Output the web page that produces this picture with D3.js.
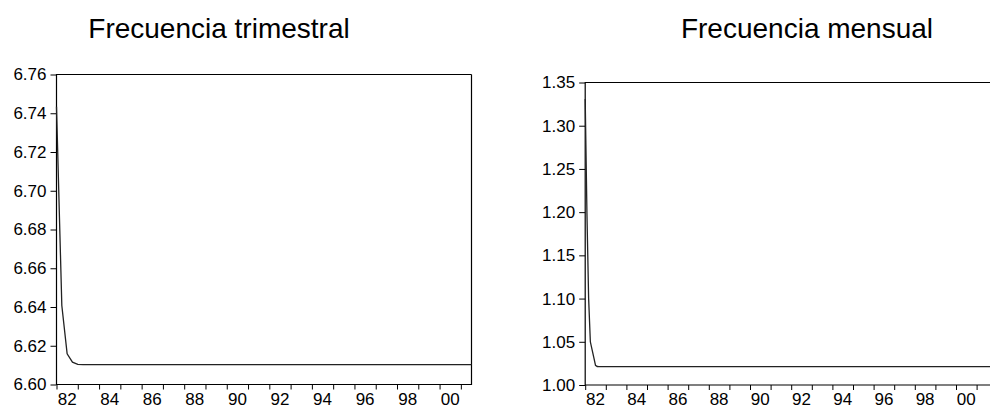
<!DOCTYPE html>
<html>
<head>
<meta charset="utf-8">
<script src="https://cdn.jsdelivr.net/npm/d3@7"></script>
<style>
  html, body { margin: 0; padding: 0; background: #fff; overflow: hidden; }
  svg { display: block; font-family: "Liberation Sans", Arial, sans-serif; }
</style>
</head>
<body>
<svg id="chart" width="990" height="409"></svg>
<script>
// ---------------- DATA ----------------
const titles = ["Frecuencia trimestral", "Frecuencia mensual"];

// Quarterly series, 1982Q1 .. 2001Q3
const quarterlyStart = 1982;
const quarterlyValues = [
  6.7433, 6.6408, 6.6158, 6.6115,
  6.6104, 6.6103, 6.6103, 6.6103,
  6.6103, 6.6103, 6.6103, 6.6103,
  6.6103, 6.6103, 6.6103, 6.6103,
  6.6103, 6.6103, 6.6103, 6.6103,
  6.6103, 6.6103, 6.6103, 6.6103,
  6.6103, 6.6103, 6.6103, 6.6103,
  6.6103, 6.6103, 6.6103, 6.6103,
  6.6103, 6.6103, 6.6103, 6.6103,
  6.6103, 6.6103, 6.6103, 6.6103,
  6.6103, 6.6103, 6.6103, 6.6103,
  6.6103, 6.6103, 6.6103, 6.6103,
  6.6103, 6.6103, 6.6103, 6.6103,
  6.6103, 6.6103, 6.6103, 6.6103,
  6.6103, 6.6103, 6.6103, 6.6103,
  6.6103, 6.6103, 6.6103, 6.6103,
  6.6103, 6.6103, 6.6103, 6.6103,
  6.6103, 6.6103, 6.6103, 6.6103,
  6.6103, 6.6103, 6.6103, 6.6103,
  6.6103, 6.6103, 6.6103
];

// Monthly series, 1982M01 .. 2001M09
const monthlyStart = 1982;
const monthlyValues = [
  1.3310, 1.2000, 1.1000, 1.0500, 1.0410, 1.0320, 1.0228, 1.0214, 1.0212, 1.0212, 1.0212, 1.0212, // 1982
  1.0212, 1.0212, 1.0212, 1.0212, 1.0212, 1.0212, 1.0212, 1.0212, 1.0212, 1.0212, 1.0212, 1.0212, // 1983
  1.0212, 1.0212, 1.0212, 1.0212, 1.0212, 1.0212, 1.0212, 1.0212, 1.0212, 1.0212, 1.0212, 1.0212, // 1984
  1.0212, 1.0212, 1.0212, 1.0212, 1.0212, 1.0212, 1.0212, 1.0212, 1.0212, 1.0212, 1.0212, 1.0212, // 1985
  1.0212, 1.0212, 1.0212, 1.0212, 1.0212, 1.0212, 1.0212, 1.0212, 1.0212, 1.0212, 1.0212, 1.0212, // 1986
  1.0212, 1.0212, 1.0212, 1.0212, 1.0212, 1.0212, 1.0212, 1.0212, 1.0212, 1.0212, 1.0212, 1.0212, // 1987
  1.0212, 1.0212, 1.0212, 1.0212, 1.0212, 1.0212, 1.0212, 1.0212, 1.0212, 1.0212, 1.0212, 1.0212, // 1988
  1.0212, 1.0212, 1.0212, 1.0212, 1.0212, 1.0212, 1.0212, 1.0212, 1.0212, 1.0212, 1.0212, 1.0212, // 1989
  1.0212, 1.0212, 1.0212, 1.0212, 1.0212, 1.0212, 1.0212, 1.0212, 1.0212, 1.0212, 1.0212, 1.0212, // 1990
  1.0212, 1.0212, 1.0212, 1.0212, 1.0212, 1.0212, 1.0212, 1.0212, 1.0212, 1.0212, 1.0212, 1.0212, // 1991
  1.0212, 1.0212, 1.0212, 1.0212, 1.0212, 1.0212, 1.0212, 1.0212, 1.0212, 1.0212, 1.0212, 1.0212, // 1992
  1.0212, 1.0212, 1.0212, 1.0212, 1.0212, 1.0212, 1.0212, 1.0212, 1.0212, 1.0212, 1.0212, 1.0212, // 1993
  1.0212, 1.0212, 1.0212, 1.0212, 1.0212, 1.0212, 1.0212, 1.0212, 1.0212, 1.0212, 1.0212, 1.0212, // 1994
  1.0212, 1.0212, 1.0212, 1.0212, 1.0212, 1.0212, 1.0212, 1.0212, 1.0212, 1.0212, 1.0212, 1.0212, // 1995
  1.0212, 1.0212, 1.0212, 1.0212, 1.0212, 1.0212, 1.0212, 1.0212, 1.0212, 1.0212, 1.0212, 1.0212, // 1996
  1.0212, 1.0212, 1.0212, 1.0212, 1.0212, 1.0212, 1.0212, 1.0212, 1.0212, 1.0212, 1.0212, 1.0212, // 1997
  1.0212, 1.0212, 1.0212, 1.0212, 1.0212, 1.0212, 1.0212, 1.0212, 1.0212, 1.0212, 1.0212, 1.0212, // 1998
  1.0212, 1.0212, 1.0212, 1.0212, 1.0212, 1.0212, 1.0212, 1.0212, 1.0212, 1.0212, 1.0212, 1.0212, // 1999
  1.0212, 1.0212, 1.0212, 1.0212, 1.0212, 1.0212, 1.0212, 1.0212, 1.0212, 1.0212, 1.0212, 1.0212, // 2000
  1.0212, 1.0212, 1.0212, 1.0212, 1.0212, 1.0212, 1.0212, 1.0212, 1.0212                          // 2001
];

const quarterlyYTicks = [6.60, 6.62, 6.64, 6.66, 6.68, 6.70, 6.72, 6.74, 6.76];
const monthlyYTicks = [1.00, 1.05, 1.10, 1.15, 1.20, 1.25, 1.30, 1.35];
const yearTicks = [1982, 1983, 1984, 1985, 1986, 1987, 1988, 1989, 1990, 1991,
                   1992, 1993, 1994, 1995, 1996, 1997, 1998, 1999, 2000, 2001];
const yearLabels = [1982, 1984, 1986, 1988, 1990, 1992, 1994, 1996, 1998, 2000];

// ---------------- DRAW ----------------
const svg = d3.select("#chart");
const FONT = 17;

function panel(cfg) {
  const g = svg.append("g");
  const x = d3.scaleLinear().domain(cfg.xDomain).range([cfg.left, cfg.right]);
  const y = d3.scaleLinear().domain(cfg.yDomain).range([cfg.bottom, cfg.top]);

  // title
  g.append("text")
    .attr("x", cfg.titleX).attr("y", cfg.titleY)
    .attr("text-anchor", "middle")
    .attr("font-size", 28)
    .attr("fill", "#000")
    .text(cfg.title);

  // y axis
  const yAx = g.append("g")
    .attr("transform", `translate(${cfg.left},0)`)
    .call(d3.axisLeft(y).tickValues(cfg.yTicks).tickFormat(d3.format(".2f")).tickSize(6).tickPadding(4));
  yAx.select(".domain").remove();
  yAx.selectAll("text").attr("font-size", FONT).attr("font-family", "Liberation Sans, Arial, sans-serif").attr("fill", "#000");
  yAx.selectAll("line").attr("stroke", "#000");

  // x axis ticks
  const xAx = g.append("g")
    .attr("transform", `translate(0,${cfg.bottom})`)
    .call(d3.axisBottom(x).tickValues(yearTicks).tickFormat("").tickSize(5));
  xAx.select(".domain").remove();
  xAx.selectAll("line").attr("stroke", "#000");

  // x labels centred in mid-year
  g.append("g").selectAll("text")
    .data(yearLabels)
    .join("text")
    .attr("x", d => x(d + 0.5))
    .attr("y", 405)
    .attr("text-anchor", "middle")
    .attr("font-size", FONT)
    .attr("fill", "#000")
    .text(d => String(d).slice(2));

  // frame (right side only when it falls inside the picture)
  const fr = cfg.frameRight;
  let d = `M${fr},${cfg.top}H${cfg.left}V${cfg.bottom}H${fr}`;
  if (cfg.closeRight) d += `V${cfg.top}`;
  g.append("path")
    .attr("d", d)
    .attr("fill", "none").attr("stroke", "#000").attr("stroke-width", 1.2);

  // series
  const line = d3.line()
    .x((d, i) => x(cfg.start + i / cfg.freq))
    .y(d => y(d));
  g.append("path")
    .datum(cfg.values)
    .attr("d", line)
    .attr("fill", "none")
    .attr("stroke", "#222")
    .attr("stroke-width", 1.3);
}

panel({
  title: titles[0], titleX: 219, titleY: 38,
  left: 56.5, right: 471.5, top: 74.5, bottom: 384.5, frameRight: 471.5, closeRight: true,
  xDomain: [quarterlyStart, quarterlyStart + (quarterlyValues.length - 1) / 4],
  yDomain: [6.60, 6.76], yTicks: quarterlyYTicks,
  values: quarterlyValues, start: quarterlyStart, freq: 4
});

const monthlyRight = 585.2 + (monthlyValues.length - 1) / 12 * 20.6;
panel({
  title: titles[1], titleX: 807, titleY: 38,
  left: 585.2, right: monthlyRight, top: 82.5, bottom: 385, frameRight: 995, closeRight: false,
  xDomain: [monthlyStart, monthlyStart + (monthlyValues.length - 1) / 12],
  yDomain: [1.00, 1.35], yTicks: monthlyYTicks,
  values: monthlyValues, start: monthlyStart, freq: 12
});
</script>
</body>
</html>
